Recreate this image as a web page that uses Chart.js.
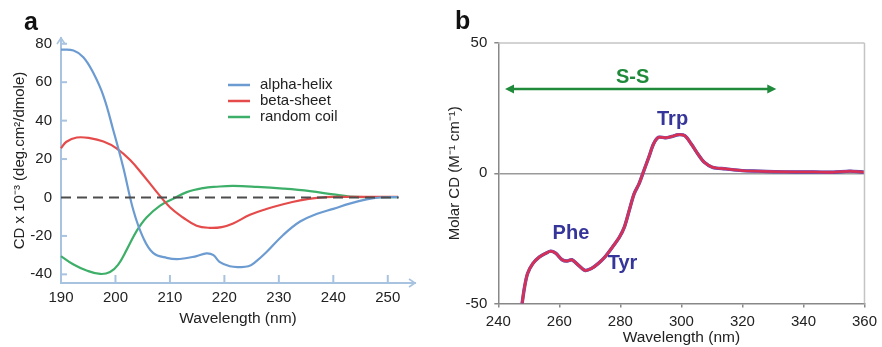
<!DOCTYPE html>
<html>
<head>
<meta charset="utf-8">
<script src="https://cdn.jsdelivr.net/npm/chart.js@4.4.1/dist/chart.umd.min.js"></script>
<style>
  html, body { margin: 0; padding: 0; background: #fff; }
  #wrap { position: relative; width: 882px; height: 347px; overflow: hidden; font-family: 'Liberation Sans', Arial, sans-serif; }
  #boxA { position: absolute; left: 0; top: 0; width: 430px; height: 347px; }
  #boxB { position: absolute; left: 440px; top: 0; width: 442px; height: 347px; }
  .tag { position: absolute; font-weight: bold; font-size: 25px; line-height: 1; color: #111; }
</style>
</head>
<body>
<div id="wrap">
  <div id="boxA"><canvas id="chartA"></canvas></div>
  <div id="boxB"><canvas id="chartB"></canvas></div>
  <div class="tag" style="left:24px; top:9px;">a</div>
  <div class="tag" style="left:455px; top:8px;">b</div>
</div>
<script>
// panel a - far UV CD reference spectra
const alphaX = [190, 192.3, 194.1, 195.9, 197.8, 199.6, 201.4, 203.3, 205.1, 206.9, 209.4, 211.8, 214.9, 216.7, 218, 219.1, 221, 222.8, 224.4, 225.5, 227.7, 230.8, 233.9, 236.9, 240, 243, 246.1, 248.5, 251.9];
const alphaY = [77, 76.5, 73, 65, 52.8, 35, 16, -6.8, -21, -28.8, -31.4, -32, -30.5, -29.1, -30, -33.5, -35.8, -36.2, -35.8, -34, -28.5, -19.5, -12.5, -8.6, -5.9, -3.2, -1, 0, 0.2];
const betaX = [190, 191, 192.9, 195.3, 197.8, 200.2, 202.7, 205.1, 207.6, 210, 212.4, 214.9, 217.3, 219.5, 221.6, 224.7, 227.7, 230.8, 233.9, 237, 240, 251.9];
const betaY = [25.6, 29, 31.2, 30.9, 29.1, 25.6, 19.5, 11.6, 2.8, -5.1, -10.4, -14.7, -15.8, -15.4, -13.5, -9, -6, -3.5, -1.5, -0.2, 0.3, 0.3];
const coilX = [190, 192.3, 194.7, 197.2, 199, 200.5, 202.1, 203.9, 205.7, 208.2, 210.6, 213.1, 216.1, 218.6, 221.6, 226, 230.8, 235.7, 240, 243, 246, 251.9];
const coilY = [-30.5, -34.9, -38, -39.8, -38.8, -34.9, -27, -17.4, -10.4, -4.2, -0.7, 2.8, 4.9, 5.6, 6, 5.5, 4.6, 3.3, 1.6, 0.5, 0.2, 0.2];
const zeroX = [190, 252];
const zeroY = [0, 0];
const seriesNamesA = ['alpha-helix', 'beta-sheet', 'random coil'];
const xTicksA = [190, 200, 210, 220, 230, 240, 250];
const yTicksA = [-40, -20, 0, 20, 40, 60, 80];

// panel b - near UV molar CD
const waveB = [247.8, 248.6, 249.6, 251.3, 253.4, 255.6, 257.2, 258.8, 260.9, 262.5, 264.1, 265.7, 268.4, 270.5, 272.7, 274.9, 277, 279.7, 281.3, 282.9, 284.5, 286.1, 287.7, 289.3, 290.9, 292.5, 294.7, 296.8, 299, 301.1, 303.2, 305.4, 307.5, 310.2, 314.5, 319.9, 325.2, 330.6, 337, 343.4, 349.8, 355.2, 360];
const molarCD = [-50, -43.7, -38.5, -34.7, -32.2, -30.7, -29.9, -30.7, -33.2, -33.7, -33.2, -34.7, -37.3, -36.6, -34.7, -32.2, -29, -24.5, -20.7, -14.3, -7.9, -4.1, 1, 6.1, 11.3, 13.8, 13.6, 14.1, 14.8, 14.4, 11.3, 7.4, 4.2, 2.3, 1.7, 1, 0.8, 0.6, 0.5, 0.5, 0.4, 0.8, 0.4];
const xTicksB = [240, 260, 280, 300, 320, 340, 360];
const yTicksB = [-50, 0, 50];
const ssArrowX = [242.2, 331.1];
const ssArrowY = 32.3;
const noteText = ['S-S', 'Trp', 'Phe', 'Tyr'];
const noteX = [284, 297.1, 263.8, 280.7];
const noteY = [36.8, 20.8, -23.2, -34.7];

const axisBlue = '#a8c3e0';
const colorsA = ['#6b9bd1', '#e54b4b', '#3daf68'];
const FONT = "'Liberation Sans', Arial, sans-serif";

function pts(xs, ys) {
    return xs.map((x, i) => ({ x: x, y: ys[i] }));
}

function line(ctx, x1, y1, x2, y2) {
    ctx.beginPath();
    ctx.moveTo(x1, y1);
    ctx.lineTo(x2, y2);
    ctx.stroke();
}

// inward ticks, axis arrows and the legend of panel a
const decorA = {
    id: 'decorA',
    afterDraw(chart) {
        const { ctx, chartArea: ca, scales: { x, y } } = chart;
        ctx.save();
        ctx.strokeStyle = axisBlue;
        ctx.lineWidth = 2;
        xTicksA.slice(1).forEach(v => {
            const px = x.getPixelForValue(v);
            line(ctx, px, ca.bottom, px, ca.bottom - 8);
        });
        yTicksA.forEach(v => {
            if (v === 0) return;
            const py = y.getPixelForValue(v);
            line(ctx, ca.left, py, ca.left + 6, py);
        });
        ctx.lineWidth = 1.6;
        ctx.beginPath();
        ctx.moveTo(ca.left - 4, ca.top + 6);
        ctx.lineTo(ca.left, ca.top);
        ctx.lineTo(ca.left + 4, ca.top + 6);
        ctx.moveTo(ca.right - 6, ca.bottom - 4);
        ctx.lineTo(ca.right, ca.bottom);
        ctx.lineTo(ca.right - 6, ca.bottom + 4);
        ctx.stroke();

        // legend
        ctx.font = '15px ' + FONT;
        ctx.textBaseline = 'middle';
        ctx.textAlign = 'left';
        seriesNamesA.forEach((name, i) => {
            const ly = 85 + i * 16;
            ctx.strokeStyle = colorsA[i];
            ctx.lineWidth = 2.5;
            line(ctx, 228, ly, 250, ly);
            ctx.fillStyle = '#222';
            ctx.fillText(name, 260, ly);
        });
        ctx.restore();
    }
};

// frame, S-S arrow and residue labels of panel b
const decorB = {
    id: 'decorB',
    afterDraw(chart) {
        const { ctx, chartArea: ca, scales: { x, y } } = chart;
        ctx.save();
        ctx.strokeStyle = '#c4c4c4';
        ctx.lineWidth = 1.5;
        line(ctx, ca.left, ca.top, ca.right, ca.top);
        line(ctx, ca.right, ca.top, ca.right, ca.bottom);

        const x1 = x.getPixelForValue(ssArrowX[0]);
        const x2 = x.getPixelForValue(ssArrowX[1]);
        const ay = y.getPixelForValue(ssArrowY);
        ctx.strokeStyle = '#1e8a3a';
        ctx.fillStyle = '#1e8a3a';
        ctx.lineWidth = 2.5;
        line(ctx, x1 + 4, ay, x2 - 4, ay);
        ctx.beginPath();
        ctx.moveTo(x1, ay);
        ctx.lineTo(x1 + 9, ay - 4.5);
        ctx.lineTo(x1 + 9, ay + 4.5);
        ctx.closePath();
        ctx.moveTo(x2, ay);
        ctx.lineTo(x2 - 9, ay - 4.5);
        ctx.lineTo(x2 - 9, ay + 4.5);
        ctx.closePath();
        ctx.fill();

        ctx.font = 'bold 20px ' + FONT;
        ctx.textAlign = 'center';
        ctx.textBaseline = 'middle';
        noteText.forEach((t, i) => {
            ctx.fillStyle = i === 0 ? '#1e8a3a' : '#35359a';
            ctx.fillText(t, x.getPixelForValue(noteX[i]), y.getPixelForValue(noteY[i]));
        });
        ctx.restore();
    }
};

Chart.defaults.font.family = FONT;
Chart.defaults.color = '#222';

new Chart(document.getElementById('chartA'), {
    type: 'line',
    data: {
        datasets: [
            { label: 'zero', data: pts(zeroX, zeroY), borderColor: '#4d4d4d', borderDash: [10, 6], borderWidth: 2, order: 0 },
            { label: seriesNamesA[0], data: pts(alphaX, alphaY), borderColor: colorsA[0], borderWidth: 2.2, tension: 0.4, order: 1 },
            { label: seriesNamesA[1], data: pts(betaX, betaY), borderColor: colorsA[1], borderWidth: 2.2, tension: 0.4, order: 2 },
            { label: seriesNamesA[2], data: pts(coilX, coilY), borderColor: colorsA[2], borderWidth: 2.2, tension: 0.4, order: 3 }
        ]
    },
    options: {
        responsive: true,
        maintainAspectRatio: false,
        animation: false,
        clip: false,
        elements: { point: { radius: 0 } },
        layout: { padding: { top: 38, right: 15, left: 0, bottom: 0 } },
        plugins: { legend: { display: false }, tooltip: { enabled: false } },
        scales: {
            x: {
                type: 'linear',
                min: 190,
                max: 255,
                afterBuildTicks: s => { s.ticks = xTicksA.map(v => ({ value: v })); },
                afterFit: s => { s.height = 64; },
                grid: { display: false, drawTicks: false },
                border: { display: true, color: axisBlue, width: 2 },
                ticks: { font: { size: 15 }, padding: 6, maxRotation: 0, autoSkip: false },
                title: { display: true, text: 'Wavelength (nm)', font: { size: 15.5 }, padding: { top: 0, bottom: 19 } }
            },
            y: {
                min: -44.5,
                max: 83,
                afterBuildTicks: s => { s.ticks = yTicksA.map(v => ({ value: v })); },
                afterFit: s => { s.width = 61; },
                grid: { display: false, drawTicks: false },
                border: { display: true, color: axisBlue, width: 2 },
                ticks: { font: { size: 15 }, padding: 9 },
                title: { display: true, text: 'CD x 10⁻³ (deg.cm²/dmole)', font: { size: 15 }, padding: { top: 11, bottom: 0 } }
            }
        }
    },
    plugins: [decorA]
});

new Chart(document.getElementById('chartB'), {
    type: 'line',
    data: {
        datasets: [
            { label: 'run 1', data: pts(waveB, molarCD), borderColor: '#d8304e', borderWidth: 2, tension: 0.3, order: 0 },
            { label: 'run 2', data: pts(waveB, molarCD), borderColor: '#c03a8a', borderWidth: 2.8, tension: 0.3, order: 1 },
            { label: 'run 3', data: pts(waveB, molarCD), borderColor: '#4b4aa8', borderWidth: 3.4, tension: 0.3, order: 2 }
        ]
    },
    options: {
        responsive: true,
        maintainAspectRatio: false,
        animation: false,
        elements: { point: { radius: 0 } },
        layout: { padding: { top: 43, right: 10, left: 0, bottom: 0 } },
        plugins: { legend: { display: false }, tooltip: { enabled: false } },
        scales: {
            x: {
                type: 'linear',
                min: 240,
                max: 360,
                afterBuildTicks: s => { s.ticks = xTicksB.map(v => ({ value: v })); },
                afterFit: s => { s.height = 43.5; },
                grid: { drawOnChartArea: false, tickLength: 4, tickColor: '#888', lineWidth: 1.5 },
                border: { display: true, color: '#888', width: 1.5 },
                ticks: { font: { size: 15 }, padding: 5, maxRotation: 0, autoSkip: false },
                title: { display: true, text: 'Wavelength (nm)', font: { size: 15.5 }, padding: { top: 0, bottom: 0 } }
            },
            y: {
                min: -50,
                max: 50,
                afterBuildTicks: s => { s.ticks = yTicksB.map(v => ({ value: v })); },
                afterFit: s => { s.width = 58.3; },
                grid: {
                    color: c => (c.tick && c.tick.value === 0 ? '#9a9a9a' : 'rgba(0,0,0,0)'),
                    lineWidth: 1.5,
                    tickLength: 4,
                    tickColor: '#888'
                },
                border: { display: true, color: '#888', width: 1.5 },
                ticks: { font: { size: 15 }, padding: 7 },
                title: { display: true, text: 'Molar CD (M⁻¹ cm⁻¹)', font: { size: 15 }, padding: { top: 5.5, bottom: 0 } }
            }
        }
    },
    plugins: [decorB]
});
</script>
</body>
</html>
